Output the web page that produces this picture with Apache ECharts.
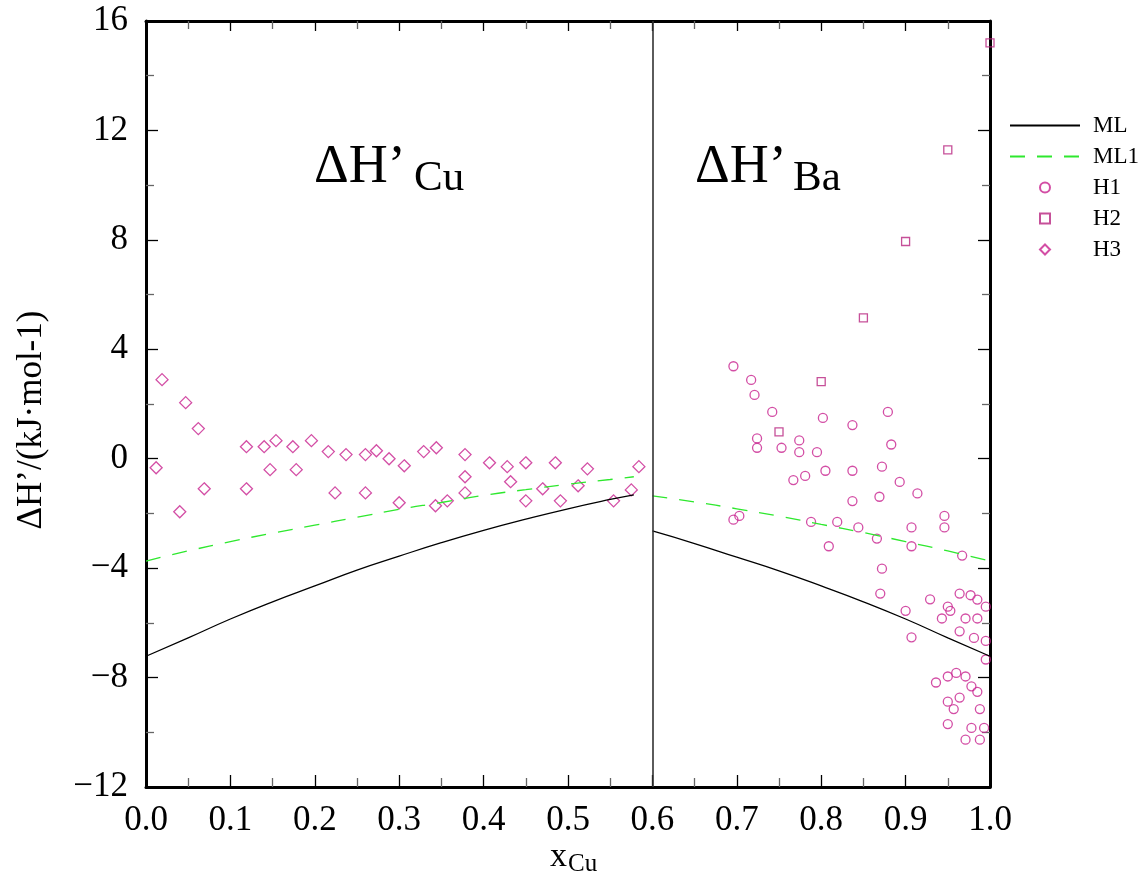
<!DOCTYPE html>
<html>
<head>
<meta charset="utf-8">
<script src="https://cdn.jsdelivr.net/npm/echarts@6/dist/echarts.min.js"></script>
<style>
html,body{margin:0;padding:0;background:#fff;}
#chart{width:1142px;height:883px;}
</style>
</head>
<body>
<div id="chart"></div>
<script>
// ---- data ----
const seriesNames = ['ML', 'ML1', 'H1', 'H2', 'H3'];
const xTicks = [0, 0.1, 0.2, 0.3, 0.4, 0.5, 0.6, 0.7, 0.8, 0.9, 1.0];
const yTicks = [-12, -8, -4, 0, 4, 8, 12, 16];

const mlLeftX  = [0, 0.05, 0.1, 0.15, 0.2, 0.25, 0.3, 0.35, 0.4, 0.45, 0.5, 0.55, 0.578];
const mlLeftY  = [-7.22, -6.55, -5.86, -5.23, -4.65, -4.07, -3.56, -3.07, -2.62, -2.21, -1.83, -1.49, -1.32];
const mlRightX = [0.6, 0.65, 0.7, 0.75, 0.8, 0.85, 0.9, 0.95, 1.0];
const mlRightY = [-2.64, -3.10, -3.60, -4.10, -4.65, -5.23, -5.86, -6.55, -7.22];

const ml1LeftX  = [0, 0.05, 0.1, 0.15, 0.2, 0.25, 0.3, 0.35, 0.4, 0.45, 0.5, 0.55, 0.578];
const ml1LeftY  = [-3.74, -3.37, -3.03, -2.72, -2.43, -2.14, -1.85, -1.60, -1.34, -1.13, -0.93, -0.76, -0.66];
const ml1RightX = [0.6, 0.65, 0.7, 0.75, 0.8, 0.85, 0.9, 0.95, 1.0];
const ml1RightY = [-1.36, -1.58, -1.83, -2.10, -2.40, -2.70, -3.03, -3.37, -3.74];

const h1Points = [
  [0.696,3.38],[0.717,2.88],[0.721,2.33],[0.742,1.71],[0.802,1.49],[0.837,1.23],[0.879,1.71],
  [0.724,0.74],[0.724,0.40],[0.753,0.40],[0.774,0.67],[0.774,0.24],[0.795,0.24],[0.883,0.52],
  [0.805,-0.44],[0.837,-0.44],[0.872,-0.29],[0.767,-0.78],[0.781,-0.63],[0.893,-0.85],[0.914,-1.27],
  [0.837,-1.55],[0.869,-1.39],[0.946,-2.09],[0.946,-2.51],[0.907,-2.51],[0.696,-2.23],[0.703,-2.09],
  [0.788,-2.31],[0.819,-2.31],[0.844,-2.51],[0.866,-2.92],[0.809,-3.20],[0.907,-3.20],[0.967,-3.54],
  [0.872,-4.02],[0.870,-4.93],[0.929,-5.14],[0.900,-5.56],[0.964,-4.93],[0.977,-4.99],[0.985,-5.15],
  [0.995,-5.41],[0.950,-5.41],[0.953,-5.56],[0.943,-5.84],[0.971,-5.84],[0.985,-5.84],[0.964,-6.31],
  [0.981,-6.55],[0.995,-6.66],[0.907,-6.53],[0.995,-7.34],[0.960,-7.83],[0.950,-7.96],[0.971,-7.96],
  [0.936,-8.18],[0.978,-8.32],[0.985,-8.52],[0.964,-8.73],[0.950,-8.88],[0.957,-9.15],[0.988,-9.15],
  [0.950,-9.70],[0.978,-9.84],[0.993,-9.84],[0.971,-10.27],[0.988,-10.27]
];
const h2Points = [[0.75,0.98],[0.80,2.82],[0.85,5.15],[0.90,7.94],[0.95,11.29],[1.0,15.2]];
const h3Points = [
  [0.012,-0.33],[0.019,2.89],[0.040,-1.94],[0.047,2.05],[0.062,1.10],[0.069,-1.10],
  [0.119,0.44],[0.119,-1.10],[0.140,0.44],[0.147,-0.40],[0.154,0.66],[0.174,0.44],[0.178,-0.40],
  [0.196,0.66],[0.216,0.26],[0.224,-1.25],[0.237,0.15],[0.260,0.15],[0.260,-1.25],[0.273,0.29],
  [0.288,0.0],[0.300,-1.61],[0.306,-0.26],[0.329,0.26],[0.343,-1.72],[0.344,0.40],[0.357,-1.54],
  [0.378,0.15],[0.378,-0.66],[0.378,-1.25],[0.407,-0.15],[0.428,-0.29],[0.432,-0.84],[0.450,-0.15],
  [0.450,-1.54],[0.470,-1.10],[0.485,-0.15],[0.491,-1.54],[0.512,-0.99],[0.523,-0.37],[0.554,-1.54],
  [0.575,-1.14],[0.584,-0.29]
];
const dividerX = 0.6;

// ---- chart ----
const FONT = '"Liberation Serif", "DejaVu Serif", serif';
const MAG = '#C8228F';
const pairs = (xs, ys) => xs.map((x, i) => [x, ys[i]]);

const chart = echarts.init(document.getElementById('chart'), null, {renderer: 'canvas'});

const tickFmtX = v => Number(v).toFixed(1);
const tickFmtY = v => (v < 0 ? '\u2212' + Math.abs(v) : String(v));

const baseAxisLine = {show: true, onZero: false, lineStyle: {color: '#000', width: 3}};
const grid = {left: 146, right: 152, top: 21, bottom: 96};

const option = {
  backgroundColor: '#fff',
  animation: false,
  grid: grid,
  legend: {
    orient: 'vertical',
    left: 1004,
    top: 109,
    itemWidth: 70,
    itemHeight: 10,
    itemGap: 8,
    data: [
      {name: 'ML', itemStyle: {opacity: 0}},
      {name: 'ML1', itemStyle: {opacity: 0}},
      {name: 'H1'},
      {name: 'H2', icon: 'path://M0,0 L10,0 L10,10 L0,10 Z'},
      {name: 'H3', icon: 'path://M5,0 L10,5 L5,10 L0,5 Z'}
    ],
    textStyle: {fontFamily: FONT, fontSize: 23, color: '#000', padding: [0, 0, 0, 8], lineHeight: 23}
  },
  xAxis: [
    {
      type: 'value', min: xTicks[0], max: xTicks[xTicks.length - 1], interval: 0.1, position: 'bottom',
      axisLine: baseAxisLine,
      axisTick: {show: true, inside: true, length: 12, lineStyle: {color: '#000', width: 1.3}},
      minorTick: {show: true, splitNumber: 2, length: 9, lineStyle: {color: '#666', width: 1.3}},
      splitLine: {show: false},
      axisLabel: {formatter: tickFmtX, fontFamily: FONT, fontSize: 35, color: '#000', margin: 16}
    },
    {
      type: 'value', min: xTicks[0], max: xTicks[xTicks.length - 1], interval: 0.1, position: 'top',
      axisLine: baseAxisLine,
      axisTick: {show: true, inside: true, length: 10, lineStyle: {color: '#000', width: 1.3}},
      minorTick: {show: true, splitNumber: 2, length: 8, lineStyle: {color: '#666', width: 1.3}},
      splitLine: {show: false},
      axisLabel: {show: false}
    }
  ],
  yAxis: [
    {
      type: 'value', min: yTicks[0], max: yTicks[yTicks.length - 1], interval: 4, position: 'left',
      axisLine: baseAxisLine,
      axisTick: {show: true, inside: true, length: 12, lineStyle: {color: '#000', width: 1.3}},
      minorTick: {show: true, splitNumber: 2, length: 8, lineStyle: {color: '#666', width: 1.3}},
      splitLine: {show: false},
      axisLabel: {formatter: tickFmtY, fontFamily: FONT, fontSize: 35, color: '#000', margin: 18}
    },
    {
      type: 'value', min: yTicks[0], max: yTicks[yTicks.length - 1], interval: 4, position: 'right',
      axisLine: baseAxisLine,
      axisTick: {show: true, inside: true, length: 12, lineStyle: {color: '#000', width: 1.3}},
      minorTick: {show: true, splitNumber: 2, length: 8, lineStyle: {color: '#666', width: 1.3}},
      splitLine: {show: false},
      axisLabel: {show: false}
    }
  ],
  series: [
    {
      name: 'ML', type: 'line', data: pairs(mlLeftX, mlLeftY), symbol: 'none', smooth: true,
      lineStyle: {color: '#000', width: 1.3}, itemStyle: {color: '#000'}
    },
    {
      name: 'ML', type: 'line', data: pairs(mlRightX, mlRightY), symbol: 'none', smooth: true,
      lineStyle: {color: '#000', width: 1.3}, itemStyle: {color: '#000'},
      markLine: {
        silent: true, symbol: 'none', label: {show: false},
        lineStyle: {color: '#333', width: 1.6, type: 'solid'},
        data: [{xAxis: dividerX}]
      }
    },
    {
      name: 'ML1', type: 'line', data: pairs(ml1LeftX, ml1LeftY), symbol: 'none', smooth: true,
      lineStyle: {color: '#2EE82E', width: 1.3, type: [15, 12]}, itemStyle: {color: '#2EE82E'}
    },
    {
      name: 'ML1', type: 'line', data: pairs(ml1RightX, ml1RightY), symbol: 'none', smooth: true,
      lineStyle: {color: '#2EE82E', width: 1.3, type: [15, 12]}, itemStyle: {color: '#2EE82E'}
    },
    {
      name: 'H1', type: 'scatter', data: h1Points, symbol: 'circle', symbolSize: 9,
      itemStyle: {color: 'rgba(255,255,255,0)', borderColor: MAG, borderWidth: 1.3}
    },
    {
      name: 'H2', type: 'scatter', data: h2Points, symbol: 'rect', symbolSize: 8,
      itemStyle: {color: 'rgba(255,255,255,0)', borderColor: '#B8247F', borderWidth: 1.3}
    },
    {
      name: 'H3', type: 'scatter', data: h3Points, symbol: 'diamond', symbolSize: 12,
      itemStyle: {color: 'rgba(255,255,255,0)', borderColor: MAG, borderWidth: 1.3}
    }
  ],
  graphic: [
    {type: 'text', x: 314, y: 168, style: {text: '\u0394H\u2019', font: '54px ' + FONT, fill: '#000', textAlign: 'left', textVerticalAlign: 'middle'}},
    {type: 'text', x: 414, y: 179, style: {text: 'Cu', font: '43px ' + FONT, fill: '#000', textAlign: 'left', textVerticalAlign: 'middle'}},
    {type: 'text', x: 695, y: 168, style: {text: '\u0394H\u2019', font: '54px ' + FONT, fill: '#000', textAlign: 'left', textVerticalAlign: 'middle'}},
    {type: 'text', x: 793, y: 179, style: {text: 'Ba', font: '43px ' + FONT, fill: '#000', textAlign: 'left', textVerticalAlign: 'middle'}},
    {type: 'text', x: 567, y: 857, style: {text: 'x', font: '34px ' + FONT, fill: '#000', textAlign: 'right', textVerticalAlign: 'middle'}},
    {type: 'text', x: 568, y: 864, style: {text: 'Cu', font: '25px ' + FONT, fill: '#000', textAlign: 'left', textVerticalAlign: 'middle'}},
    {type: 'text', x: 32, y: 420, rotation: Math.PI / 2,
     style: {text: '\u0394H\u2019/(kJ\u00B7mol-1)', font: '35px ' + FONT, fill: '#000', textAlign: 'center', textVerticalAlign: 'middle'}}
  ]
};
chart.setOption(option);
</script>
</body>
</html>
